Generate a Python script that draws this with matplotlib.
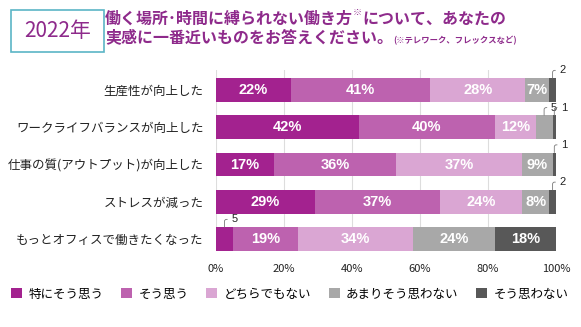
import matplotlib
matplotlib.use("Agg")
import matplotlib.pyplot as plt
from matplotlib.patches import Rectangle, Patch
import numpy as np

plt.rcParams['font.family'] = ['Noto Sans CJK JP', 'DejaVu Sans']

categories = ["生産性が向上した", "ワークライフバランスが向上した", "仕事の質(アウトプット)が向上した",
              "ストレスが減った", "もっとオフィスで働きたくなった"]
series_names = ["特にそう思う", "そう思う", "どちらでもない", "あまりそう思わない", "そう思わない"]
strongly_agree = [22, 42, 17, 29, 5]
agree = [41, 40, 36, 37, 19]
neutral = [28, 12, 37, 24, 34]
disagree = [7, 5, 9, 8, 24]
strongly_disagree = [2, 1, 1, 2, 18]
xticks = [0, 20, 40, 60, 80, 100]
xtick_labels = ["0%", "20%", "40%", "60%", "80%", "100%"]

colors = ["#A3228F", "#BD62AF", "#DAA6D3", "#A8A8A8", "#585858"]
purple = "#8E2A8B"

W, H = 581, 327
fig = plt.figure(figsize=(W / 100, H / 100), dpi=100)

left_px, right_px, top_px, bot_px = 216, 556, 70, 251
ax = fig.add_axes([left_px / W, 1 - bot_px / H, (right_px - left_px) / W, (bot_px - top_px) / H])

h = 0.644
data = np.array([strongly_agree, agree, neutral, disagree, strongly_disagree], dtype=float)
y = np.arange(len(categories))
lefts = np.zeros(len(categories))
for i in range(len(series_names)):
    vals = data[i]
    ax.barh(y, vals, left=lefts, height=h, color=colors[i], zorder=2, linewidth=0)
    for j, v in enumerate(vals):
        cx = lefts[j] + v / 2
        if v >= 7:
            ax.text(cx, y[j], f"{int(v)}%", ha='center', va='center', color='white',
                    fontsize=10.5, fontweight='bold', family=['Liberation Sans', 'DejaVu Sans'], zorder=3)
        else:
            ax.annotate(f"{int(v)}", xy=(cx, y[j] - h / 2), xytext=(5, 5.5), textcoords='offset points',
                        ha='left', va='center', fontsize=8, color='#222222',
                        family=['Liberation Sans', 'DejaVu Sans'],
                        arrowprops=dict(arrowstyle='-', color='#777777', lw=0.6, shrinkA=1, shrinkB=0,
                                        connectionstyle='angle,angleA=0,angleB=90,rad=2'))
    lefts += vals

ax.set_xlim(0, 100)
ax.set_ylim(4 + h / 2, -h / 2 - 0.215)
ax.set_xticks(xticks)
ax.set_xticklabels(xtick_labels)
ax.set_yticks(y)
ax.set_yticklabels(categories)
ax.tick_params(axis='x', length=0, pad=9, labelsize=8, colors='#222222')
ax.tick_params(axis='y', length=0, pad=9, labelsize=9, colors='#222222')
for s in ax.spines.values():
    s.set_visible(False)
ax.grid(axis='x', color='#DDDDDD', lw=0.8, zorder=0)
ax.set_axisbelow(True)

# title box
fig.patches.append(Rectangle((11 / W, 1 - 52 / H), 93 / W, 42 / H, transform=fig.transFigure,
                             fill=False, edgecolor='#5BB5C6', lw=1.2))
fig.text(57.5 / W, 1 - 31 / H, "2022年", ha='center', va='center', fontsize=15, color=purple)

tfs = 11.5
t1 = fig.text(105 / W, 1 - 19 / H, "働く場所･時間に縛られない働き方", ha='left', va='center',
              fontsize=tfs, fontweight='bold', color=purple)
a1 = ax.annotate("※", xy=(1, 0.62), xycoords=t1, ha='left', va='bottom', fontsize=6.5,
                 color=purple, fontweight='bold', annotation_clip=False)
ax.annotate("について、あなたの", xy=(1, 0.5), xycoords=(a1, t1), ha='left', va='center',
            fontsize=tfs, fontweight='bold', color=purple, annotation_clip=False)

t2 = fig.text(105 / W, 1 - 37 / H, "実感に一番近いものをお答えください。", ha='left', va='center',
              fontsize=tfs, fontweight='bold', color=purple)
ax.annotate("(※テレワーク、フレックスなど)", xy=(1, 0.3), xycoords=t2, ha='left', va='center',
            fontsize=6, color=purple, fontweight='bold', annotation_clip=False)

handles = [Patch(facecolor=c, edgecolor='none') for c in colors]
fig.legend(handles, series_names, loc='center left', bbox_to_anchor=(11 / W, 1 - 294 / H), ncol=5,
           frameon=False, fontsize=9, handlelength=0.9, handleheight=0.9, handletextpad=0.5,
           columnspacing=1.4, borderaxespad=0, borderpad=0)

fig.savefig("out.png", dpi=100, facecolor='white')
